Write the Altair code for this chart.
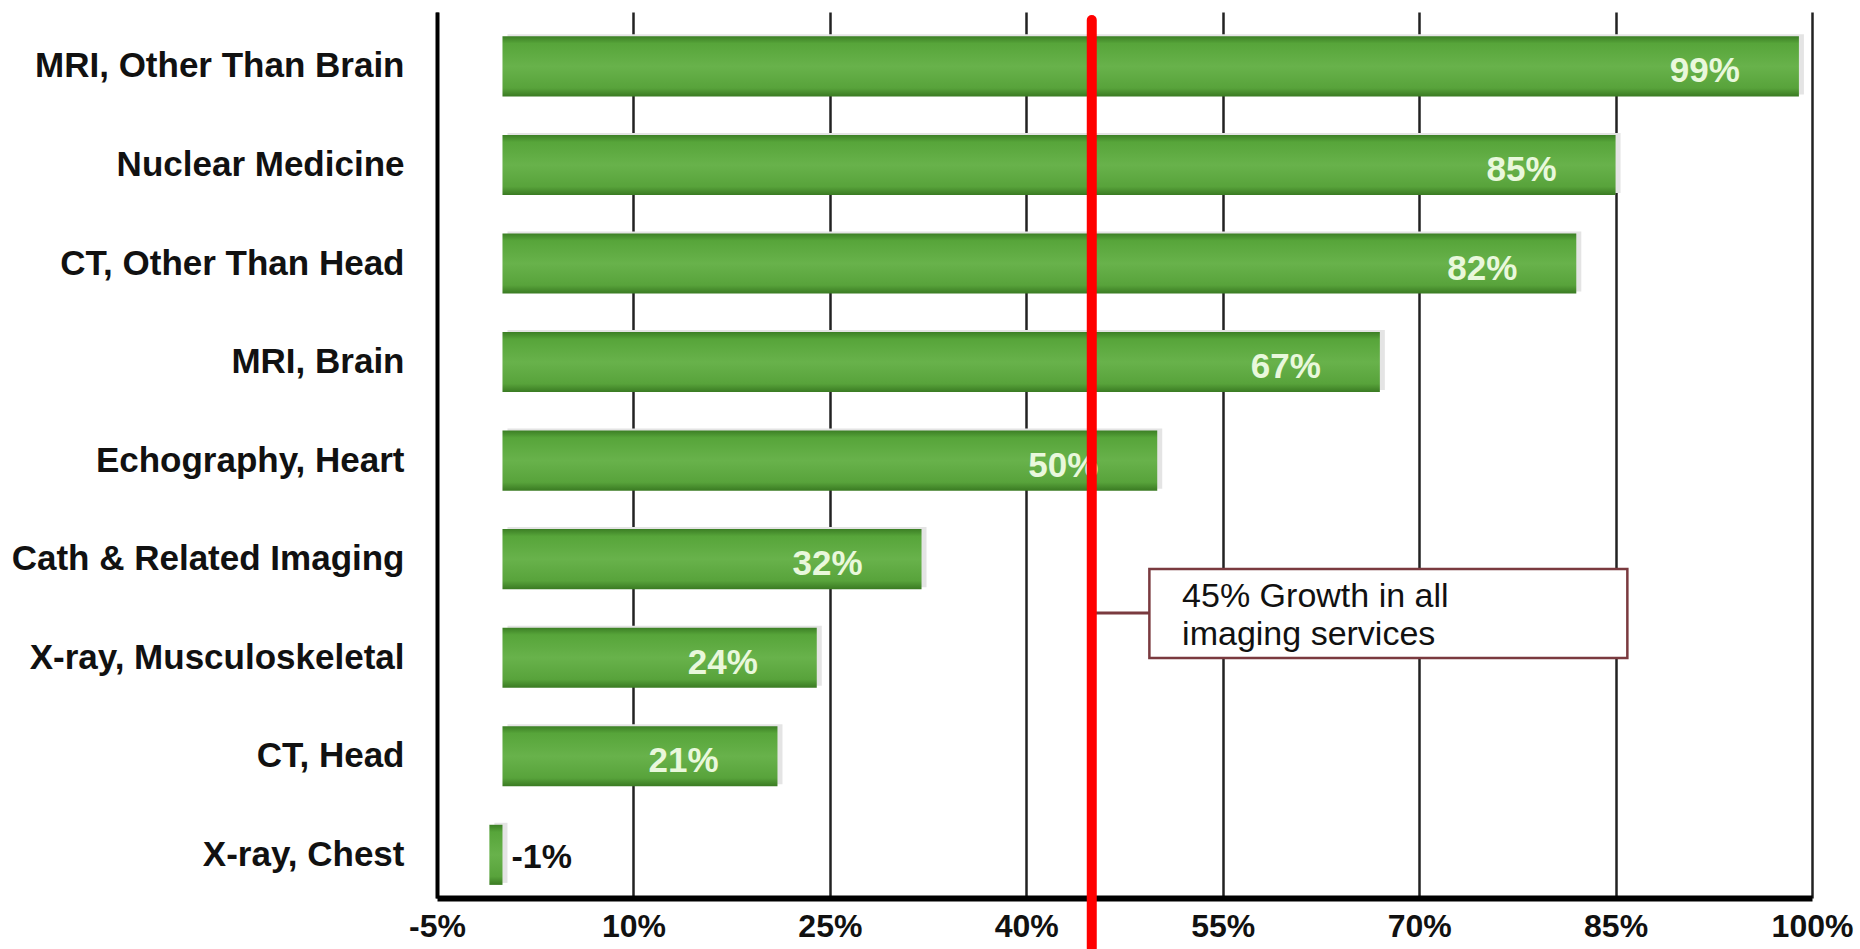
import altair as alt
import pandas as pd

categories = [
    "MRI, Other Than Brain",
    "Nuclear Medicine",
    "CT, Other Than Head",
    "MRI, Brain",
    "Echography, Heart",
    "Cath & Related Imaging",
    "X-ray, Musculoskeletal",
    "CT, Head",
    "X-ray, Chest",
]
growth = [99, 85, 82, 67, 50, 32, 24, 21, -1]
tick_values = [-5, 10, 25, 40, 55, 70, 85, 100]
overall_growth = 45
note_lines = ["45% Growth in all", "imaging services"]

FONT = "Liberation Sans, Arial, Helvetica, sans-serif"

df = pd.DataFrame({"category": categories, "value": growth})
df["label"] = [f"{v}%" for v in growth]

W, H = 1375, 886

x_scale = alt.Scale(domain=[-5, 100], nice=False, zero=False)
y_scale = alt.Scale(paddingInner=0.39, paddingOuter=0.19, align=0.65)

x_axis = alt.Axis(
    values=tick_values,
    labelExpr="datum.value + '%'",
    title=None,
    ticks=False,
    grid=True,
    gridColor="#222222",
    gridWidth=2.5,
    domainColor="#000000",
    domainWidth=6,
    labelFontSize=32,
    labelFont=FONT,
    labelFontWeight="bold",
    labelColor="#111111",
    labelPadding=13,
    labelFlush=False,
)
y_axis = alt.Axis(
    title=None,
    ticks=False,
    labelPadding=33,
    labelFontSize=35,
    labelFont=FONT,
    labelFontWeight="bold",
    labelColor="#111111",
    labelLimit=0,
    domainColor="#000000",
    domainWidth=4,
    grid=False,
)

base = alt.Chart(df)

shadow = base.mark_bar(color="#e4e4e4", xOffset=5, yOffset=-2).encode(
    x=alt.X("value:Q", scale=x_scale, axis=x_axis),
    y=alt.Y("category:N", sort=categories, scale=y_scale, axis=y_axis),
)

grad = alt.LinearGradient(
    gradient="linear",
    x1=0, y1=0, x2=0, y2=1,
    stops=[
        alt.GradientStop(color="#3c7f25", offset=0),
        alt.GradientStop(color="#57a53a", offset=0.12),
        alt.GradientStop(color="#68b24b", offset=0.5),
        alt.GradientStop(color="#58a33b", offset=0.86),
        alt.GradientStop(color="#3a7a22", offset=1),
    ],
)

bars = base.mark_bar(color=grad).encode(
    x=alt.X("value:Q", scale=x_scale, axis=x_axis),
    y=alt.Y("category:N", sort=categories, scale=y_scale, axis=y_axis),
)

inside = base.transform_filter("datum.value > 0").mark_text(
    align="center", baseline="middle", dx=-94, dy=5,
    font=FONT, fontWeight="bold", fontSize=35, color="#e9f8dc",
).encode(
    x=alt.X("value:Q", scale=x_scale),
    y=alt.Y("category:N", sort=categories, scale=y_scale),
    text="label:N",
)

outside = base.transform_filter("datum.value <= 0").mark_text(
    align="left", baseline="middle", dx=9, dy=3,
    font=FONT, fontWeight="bold", fontSize=34, color="#111111",
).encode(
    x=alt.datum(0, scale=x_scale),
    y=alt.Y("category:N", sort=categories, scale=y_scale),
    text="label:N",
)

ann = pd.DataFrame({"g": [overall_growth]})

box = alt.Chart(ann).transform_calculate(
    bx1="datum.g + 4.4", bx2="datum.g + 40.9"
).mark_rect(
    fill="#ffffff", stroke="#7a3a3f", strokeWidth=2.5
).encode(
    x=alt.X("bx1:Q", scale=x_scale),
    x2=alt.X2("bx2:Q"),
    y=alt.value(557),
    y2=alt.value(646),
)

connector = alt.Chart(ann).transform_calculate(
    cx2="datum.g + 4.4"
).mark_rule(color="#7a3a3f", strokeWidth=3).encode(
    x=alt.X("g:Q", scale=x_scale),
    x2=alt.X2("cx2:Q"),
    y=alt.value(601),
)

note = alt.Chart(ann).transform_calculate(
    tx="datum.g + 6.9"
).mark_text(
    align="left", baseline="middle", font=FONT, fontSize=34,
    color="#111111", lineHeight=38,
).encode(
    x=alt.X("tx:Q", scale=x_scale),
    y=alt.value(585),
    text=alt.value(note_lines),
)

red = alt.Chart(ann).mark_rule(color="#ff0000", strokeWidth=10, strokeCap="round").encode(
    x=alt.X("g:Q", scale=x_scale),
    y=alt.value(8),
    y2=alt.value(936),
)

chart = alt.layer(shadow, bars, inside, outside, connector, box, note, red).properties(
    width=W,
    height=H,
    autosize=alt.AutoSizeParams(type="none"),
    padding={"left": 437, "top": 12, "right": 48, "bottom": 51},
    background="#ffffff",
).configure_view(strokeWidth=0)

chart.save("out.html", embed_options={"renderer": "svg", "actions": False})
